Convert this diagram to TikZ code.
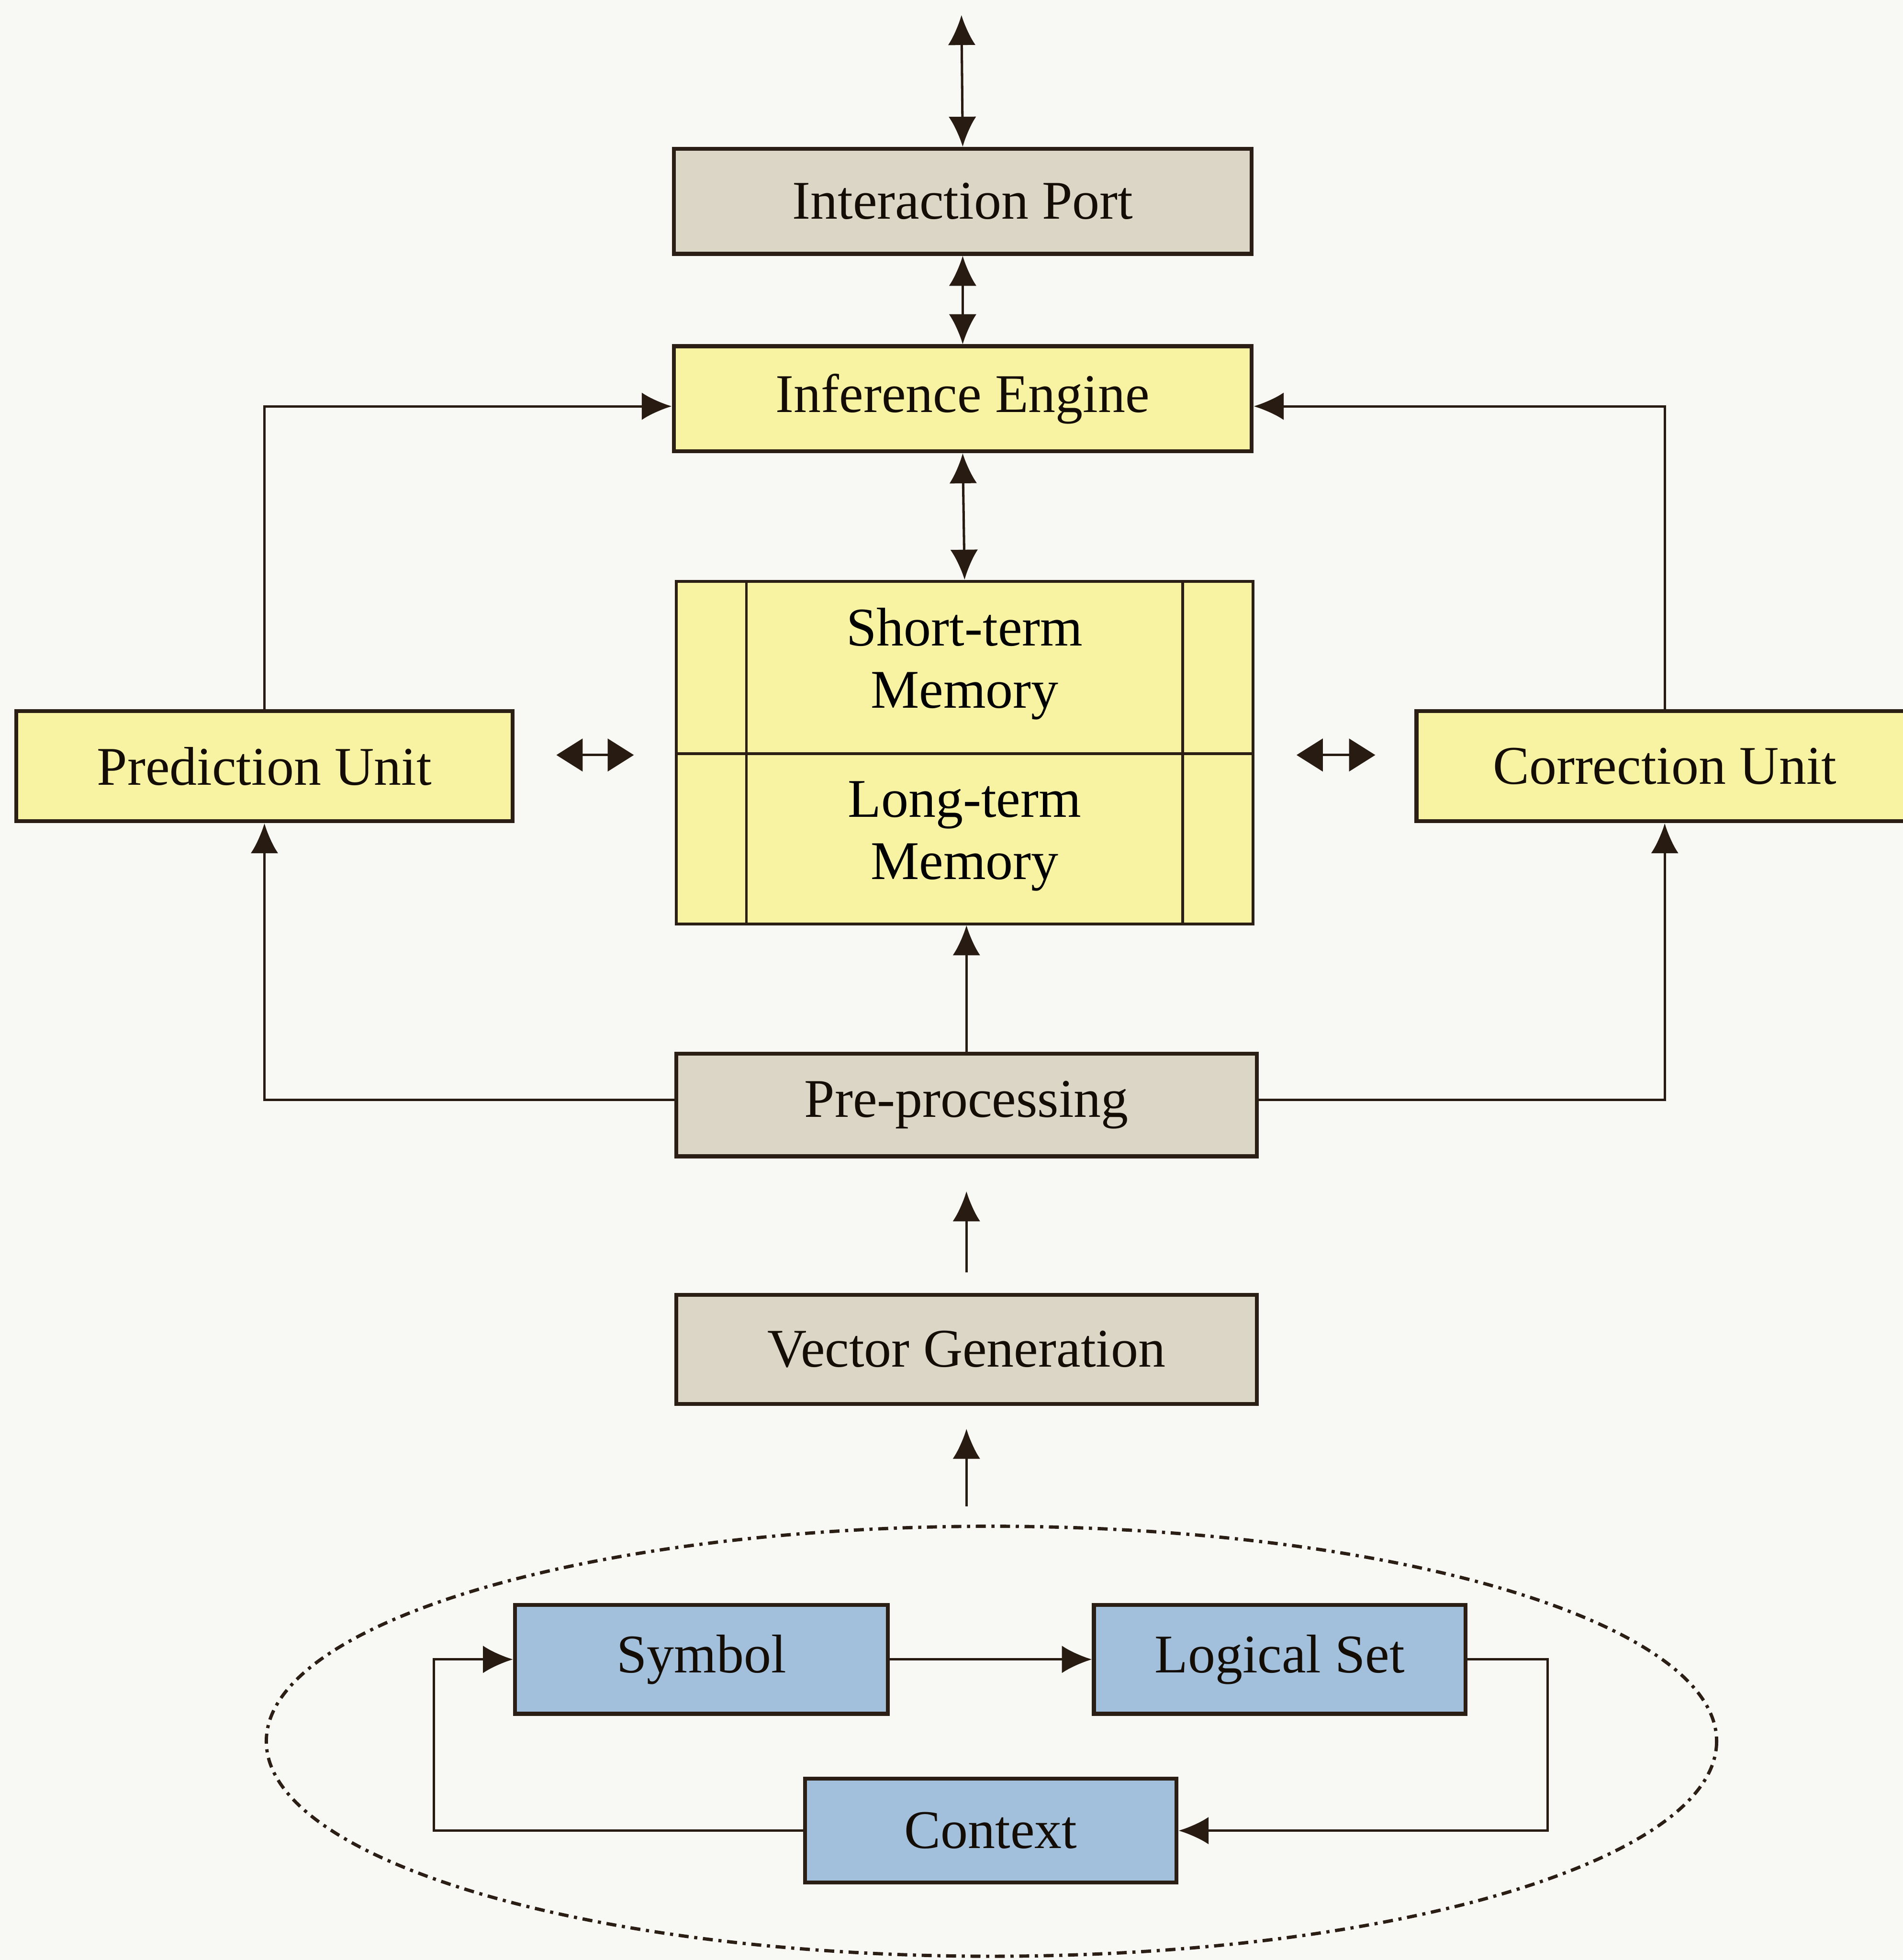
\documentclass[tikz,border=0pt]{standalone}
\usepackage{fontspec}
\setmainfont{Liberation Serif}
\usetikzlibrary{arrows.meta,calc}

\definecolor{paper}{HTML}{F8F8F4}
\definecolor{edge}{HTML}{2B1E14}
\definecolor{tanfill}{HTML}{DCD6C6}
\definecolor{yelfill}{HTML}{F7F3A3}
\definecolor{bluefill}{HTML}{A2C0DC}

\tikzset{
  box/.style={draw=edge, line width=0.9pt, rectangle, inner sep=0pt,
    font=\fontsize{12.4}{14.2}\selectfont, text=black!90!brown, align=center},
  tanbox/.style={box, fill=tanfill},
  yelbox/.style={box, fill=yelfill},
  bluebox/.style={box, fill=bluefill},
  conn/.style={draw=edge!90!black, line width=0.55pt},
  tip/.style={-{Latex[length=0.24cm,width=0.22cm]}},
  dtip/.style={{Latex[length=0.24cm,width=0.22cm]}-{Latex[length=0.24cm,width=0.22cm]}},
  tinydbl/.style={{Triangle[length=0.21cm,width=0.26cm]}-{Triangle[length=0.21cm,width=0.26cm]}},
  dashdot/.style={draw=edge, line width=0.75pt,
    dash pattern=on 0.08cm off 0.045cm on 0.025cm off 0.045cm},
}

\begin{document}
\begin{tikzpicture}[x=0.01cm, y=-0.01cm]
  % page
  \fill[paper] (0,0) rectangle (1522,1568);
  \useasboundingbox (0,0) rectangle (1522,1568);

  % main column
  \node[tanbox, minimum width=4.62cm, minimum height=0.84cm] (ip) at (770,161) {Interaction Port};
  \node[yelbox, minimum width=4.62cm, minimum height=0.84cm] (ie) at (770,319) {Inference Engine};
  \node[yelbox, minimum width=4.61cm, minimum height=2.74cm, line width=0.65pt] (mem) at (771.5,602) {};
  \node[tanbox, minimum width=4.64cm, minimum height=0.82cm] (pp) at (773,884) {Pre-processing};
  \node[tanbox, minimum width=4.64cm, minimum height=0.87cm] (vg) at (773,1079.5) {Vector Generation};

  % memory compartments
  \draw[edge, line width=0.65pt] (597,465) -- (597,739) (946,465) -- (946,739) (541,603) -- (1002,603);
  \node[font=\fontsize{12.4}{14.2}\selectfont, align=center] (stm) at (771.5,531) {Short-term\\Memory};
  \node[font=\fontsize{12.4}{14.2}\selectfont, align=center] (ltm) at (771.5,669) {Long-term\\Memory};

  % side units
  \node[yelbox, minimum width=3.97cm, minimum height=0.88cm] (pu) at (211.5,613) {Prediction Unit};
  \node[yelbox, minimum width=3.97cm, minimum height=0.88cm] (cu) at (1331.5,613) {Correction Unit};

  % cycle inside the ellipse
  \draw[dashdot] (793,1393) ellipse [x radius=580, y radius=172];
  \node[bluebox, minimum width=2.98cm, minimum height=0.87cm] (sym) at (561,1327.5) {Symbol};
  \node[bluebox, minimum width=2.97cm, minimum height=0.87cm] (ls) at (1023.5,1327.5) {Logical Set};
  \node[bluebox, minimum width=2.97cm, minimum height=0.83cm] (ctx) at (792.5,1464.5) {Context};

  % free connector ends
  \coordinate (top) at (769,12);
  \coordinate (a1) at (773,1018);
  \coordinate (a1t) at (773,953);
  \coordinate (a2) at (773,1205);
  \coordinate (a2t) at (773,1143);
  \coordinate (l1) at (445,604);
  \coordinate (l2) at (507,604);
  \coordinate (r1) at (1037,604);
  \coordinate (r2) at (1100,604);
  \coordinate (lsr) at (1238,1327.5);
  \coordinate (ctl) at (347,1464.5);

  % vertical spine
  \draw[conn, dtip] (top) -- (ip.north);
  \draw[conn, dtip] (ip.south) -- (ie.north);
  \draw[conn, dtip] (ie.south) -- (mem.north);
  \draw[conn, tip] (pp.north) -- (pp.north |- mem.south);
  \draw[conn, tip] (a1) -- (a1t);
  \draw[conn, tip] (a2) -- (a2t);

  % feedback loops through the side units
  \draw[conn, tip] (pu.north) |- ([yshift=-0.06cm]ie.west);
  \draw[conn, tip] (cu.north) |- ([yshift=-0.06cm]ie.east);
  \draw[conn, tip] ([yshift=0.04cm]pp.west) -| (pu.south);
  \draw[conn, tip] ([yshift=0.04cm]pp.east) -| (cu.south);

  % exchange with memory
  \draw[conn, tinydbl] (l1) -- (l2);
  \draw[conn, tinydbl] (r1) -- (r2);

  % symbol / logical set / context cycle
  \draw[conn, tip] (sym.east) -- (ls.west);
  \draw[conn, tip] (ls.east) -- (lsr) |- (ctx.east);
  \draw[conn, tip] (ctx.west) -- (ctl) |- (sym.west);
\end{tikzpicture}
\end{document}
